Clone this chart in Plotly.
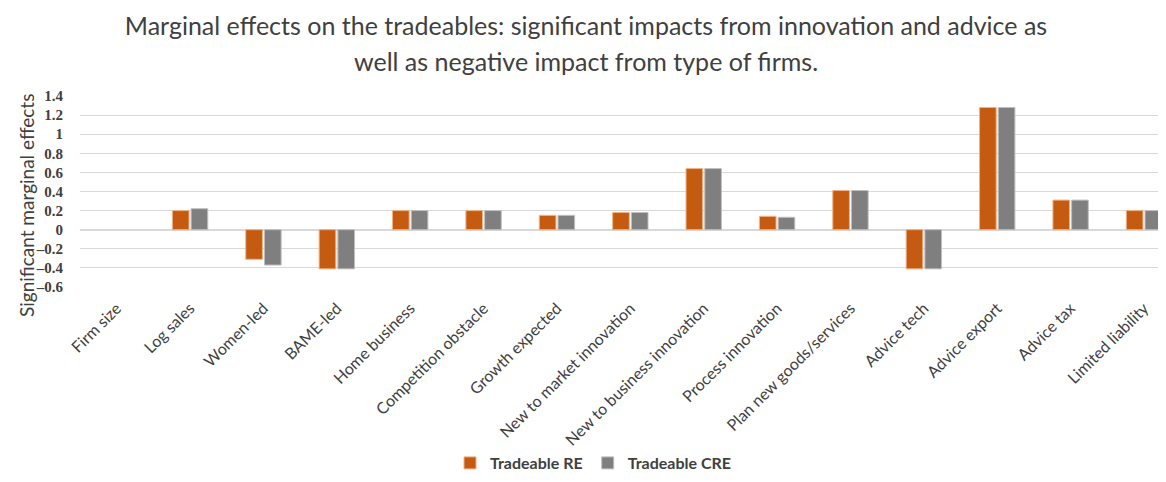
import plotly.graph_objects as go

# Categorias e efeitos marginais (None = sem efeito significativo)
categorias = ['Firm size', 'Log sales', 'Women-led', 'BAME-led', 'Home business',
              'Competition obstacle', 'Growth expected', 'New to market innovation',
              'New to business innovation', 'Process innovation', 'Plan new goods/services',
              'Advice tech', 'Advice export', 'Advice tax', 'Limited liability']
tradeable_re = [None, 0.20, -0.31, -0.41, 0.20, 0.20, 0.15, 0.18, 0.64, 0.14, 0.41,
                -0.41, 1.28, 0.31, 0.20]
tradeable_cre = [None, 0.22, -0.37, -0.41, 0.20, 0.20, 0.15, 0.18, 0.64, 0.13, 0.41,
                 -0.41, 1.28, 0.31, 0.20]
ticks_y = [-0.6, -0.4, -0.2, 0, 0.2, 0.4, 0.6, 0.8, 1, 1.2, 1.4]

# a página tem margem de 8px no body, então a figura é 8px menor
W, H = 1158, 474
plot_top, plot_bot, plot_left = 88, 279, 72

fig = go.Figure()
fig.add_trace(go.Bar(x=categorias, y=tradeable_re, name='Tradeable RE',
                     marker=dict(color='#C55A11', line=dict(color='#F4B183', width=1))))
fig.add_trace(go.Bar(x=categorias, y=tradeable_cre, name='Tradeable CRE',
                     marker=dict(color='#7F7F7F', line=dict(color='#BFBFBF', width=1))))

fig.update_layout(
    width=W,
    height=H,
    paper_bgcolor='white',
    plot_bgcolor='white',
    font=dict(family='Lato', color='#404040', size=14),
    title=dict(
        text='Marginal effects on the tradeables: significant impacts from innovation and advice as',
        x=578 / W, xref='container', xanchor='center', y=1 - 18 / H, yref='container', yanchor='middle',
        font=dict(size=25, color='#404040', family='Lato'),
    ),
    barmode='group',
    bargap=0.49,
    bargroupgap=0.11,
    margin=dict(l=plot_left, r=0, t=plot_top, b=H - plot_bot, autoexpand=False),
    legend=dict(orientation='h', x=0.4724, xanchor='center', yref='container', y=(H - 455) / H,
                yanchor='middle', font=dict(size=16, color='#404040', family='Lato', weight='bold'),
                itemwidth=30, traceorder='normal'),
    showlegend=True,
)
# segunda linha do título
fig.add_annotation(text='well as negative impact from type of firms.', xref='paper', yref='paper',
                   x=(578 - plot_left) / (W - plot_left), y=(plot_bot - 53) / (plot_bot - plot_top),
                   xanchor='center', yanchor='middle', showarrow=False,
                   font=dict(size=25, color='#404040', family='Lato'))
fig.add_annotation(text='Significant marginal effects', xref='paper', yref='paper',
                   x=(18 - plot_left) / (W - plot_left), y=(plot_bot - 198) / (plot_bot - plot_top),
                   xanchor='center', yanchor='middle', textangle=-90, showarrow=False,
                   font=dict(size=19, color='#404040', family='Lato'))
fig.update_yaxes(
    range=[-0.6, 1.4], tickvals=ticks_y, ticktext=[f'{t:g}'.replace('-', '\u2013') for t in ticks_y],
    showgrid=True, gridcolor='#D9D9D9', zeroline=True, zerolinecolor='#D9D9D9', automargin=False,
    tickfont=dict(size=15, color='#404040', family='Liberation Serif', weight='bold'), ticklabelstandoff=16,
)
fig.update_xaxes(tickangle=-45, tickfont=dict(size=16, color='#404040', family='Lato'),
                 showline=False, automargin=False, range=[-0.5, 14.3], ticklabelstandoff=8)

fig.write_html('out.html')
